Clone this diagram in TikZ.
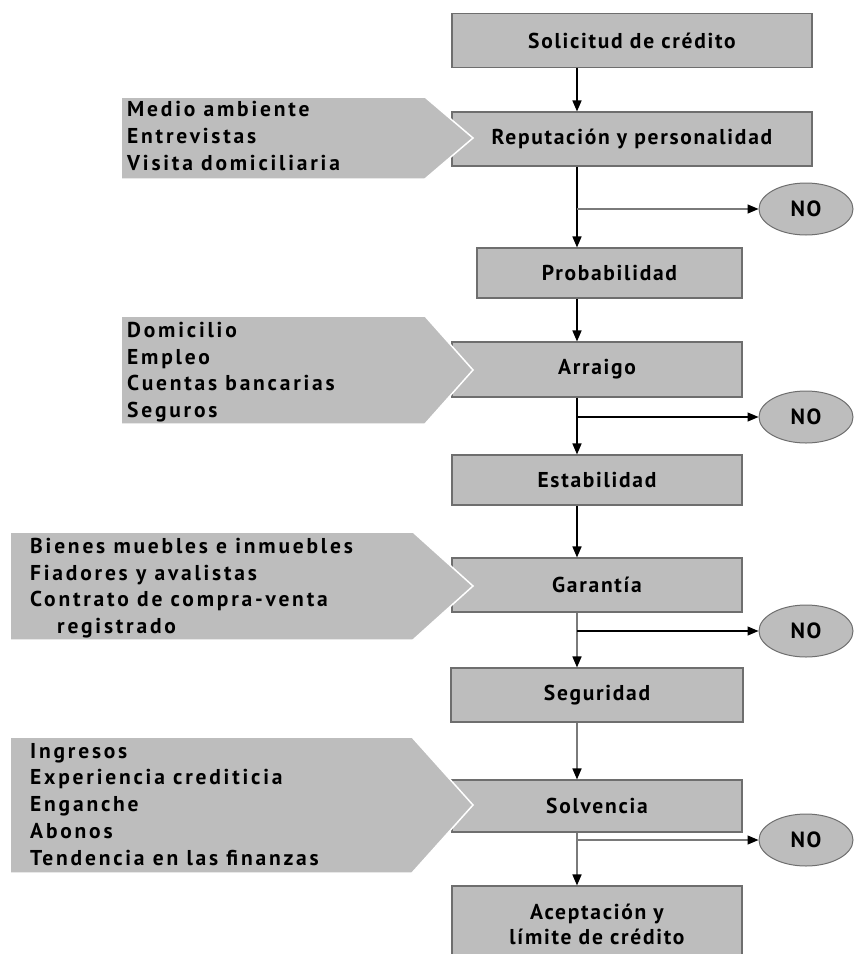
\documentclass[tikz,border=0pt]{standalone}
\usepackage{fontspec}
\setmainfont{PT Sans}
\newfontfamily\infofont{PT Sans}[LetterSpace=13]
\newfontfamily\stepfont{PT Sans}[LetterSpace=8]
\usetikzlibrary{arrows.meta,shapes.geometric}
\definecolor{boxfill}{HTML}{BDBDBD}
\definecolor{boxline}{HTML}{6E6E6E}
\definecolor{lightline}{HTML}{7A7A7A}
\tikzset{
  stepbox/.style={draw=boxline, line width=1.1pt, fill=boxfill, inner sep=0pt,
    font=\stepfont\fontsize{21.5}{25}\selectfont\bfseries, align=center},
  nobox/.style={ellipse, draw=boxline, line width=1pt, fill=boxfill,
    minimum width=94pt, minimum height=52pt, inner sep=0pt,
    font=\stepfont\fontsize{22}{24}\selectfont\bfseries},
  infoshape/.style={fill=boxfill, draw=white, line width=1.5pt},
  infotext/.style={anchor=north west, inner sep=0pt, align=left,
    font=\infofont\fontsize{21.5}{26.7}\selectfont\bfseries},
  flow/.style={line width=1.6pt, draw=black, -{Triangle[length=11pt,width=9pt,color=black]}},
  flowgray/.style={line width=1.6pt, draw=lightline, -{Triangle[length=11pt,width=9pt,color=black]}},
}
\begin{document}
\begin{tikzpicture}[x=1pt,y=-1pt]
  \useasboundingbox (0,0) rectangle (854,954);
  \coordinate (lx) at (577,0);

  % main sequence of steps
  \node[stepbox, minimum width=360pt, minimum height=54pt] (sol) at (632,40.5) {Solicitud de crédito};
  \node[stepbox, minimum width=360pt, minimum height=54pt] (rep) at (632,139) {Reputación y personalidad};
  \node[stepbox, minimum width=265pt, minimum height=50pt] (prob) at (609.5,273) {Probabilidad};
  \node[stepbox, minimum width=290pt, minimum height=55pt] (arr) at (597,369.5) {Arraigo};
  \node[stepbox, minimum width=290pt, minimum height=50pt] (est) at (597,480) {Estabilidad};
  \node[stepbox, minimum width=290pt, minimum height=54pt] (gar) at (597,585) {Garantía};
  \node[stepbox, minimum width=292pt, minimum height=54pt] (seg) at (597,695) {Seguridad};
  \node[stepbox, minimum width=290pt, minimum height=52pt] (solv) at (597,806) {Solvencia};
  \node[stepbox, minimum width=290pt, minimum height=76pt] (acep) at (597,924) {Aceptación y\\límite de crédito};

  % rejection outcomes
  \node[nobox] (no1) at (806,209) {NO};
  \node[nobox] (no2) at (806,417) {NO};
  \node[nobox] (no3) at (806,631) {NO};
  \node[nobox] (no4) at (806,840) {NO};

  % factors feeding each evaluation step
  \filldraw[infoshape] (121,97) -- (425,97) -- (473,138) -- (425,179) -- (121,179) -- cycle;
  \filldraw[infoshape] (121,316) -- (425,316) -- (473,370) -- (425,424) -- (121,424) -- cycle;
  \filldraw[infoshape] (10,532) -- (413,532) -- (473,586) -- (413,640) -- (10,640) -- cycle;
  \filldraw[infoshape] (10,737) -- (412,737) -- (473,805) -- (412,873) -- (10,873) -- cycle;

  \node[infotext] (f1) at (127,101.5) {Medio ambiente\\Entrevistas\\Visita domiciliaria};
  \node[infotext] (f2) at (127,322) {Domicilio\\Empleo\\Cuentas bancarias\\Seguros};
  \node[infotext] (f3) at (30,538) {Bienes muebles e inmuebles\\Fiadores y avalistas\\Contrato de compra-venta\\\hspace*{27pt}registrado};
  \node[infotext] (f4) at (30,743) {Ingresos\\Experiencia crediticia\\Enganche\\Abonos\\Tendencia en las finanzas};

  % connectors
  \draw[flow] (sol.south -| lx) -- (rep.north -| lx);
  \draw[flow] (rep.south -| lx) -- (prob.north -| lx);
  \draw[flowgray, line width=1.3pt] (no1 -| lx) -- (no1);
  \draw[flow] (prob.south -| lx) -- (arr.north -| lx);
  \draw[flow] (arr.south -| lx) -- (est.north -| lx);
  \draw[flow, line width=1.3pt] (no2 -| lx) -- (no2);
  \draw[flow] (est.south -| lx) -- (gar.north -| lx);
  \draw[flowgray] (gar.south -| lx) -- (seg.north -| lx);
  \draw[flow, line width=1.3pt] (no3 -| lx) -- (no3);
  \draw[flowgray] (seg.south -| lx) -- (solv.north -| lx);
  \draw[flowgray] (solv.south -| lx) -- (acep.north -| lx);
  \draw[flowgray, line width=1.3pt] (no4 -| lx) -- (no4);
\end{tikzpicture}
\end{document}
